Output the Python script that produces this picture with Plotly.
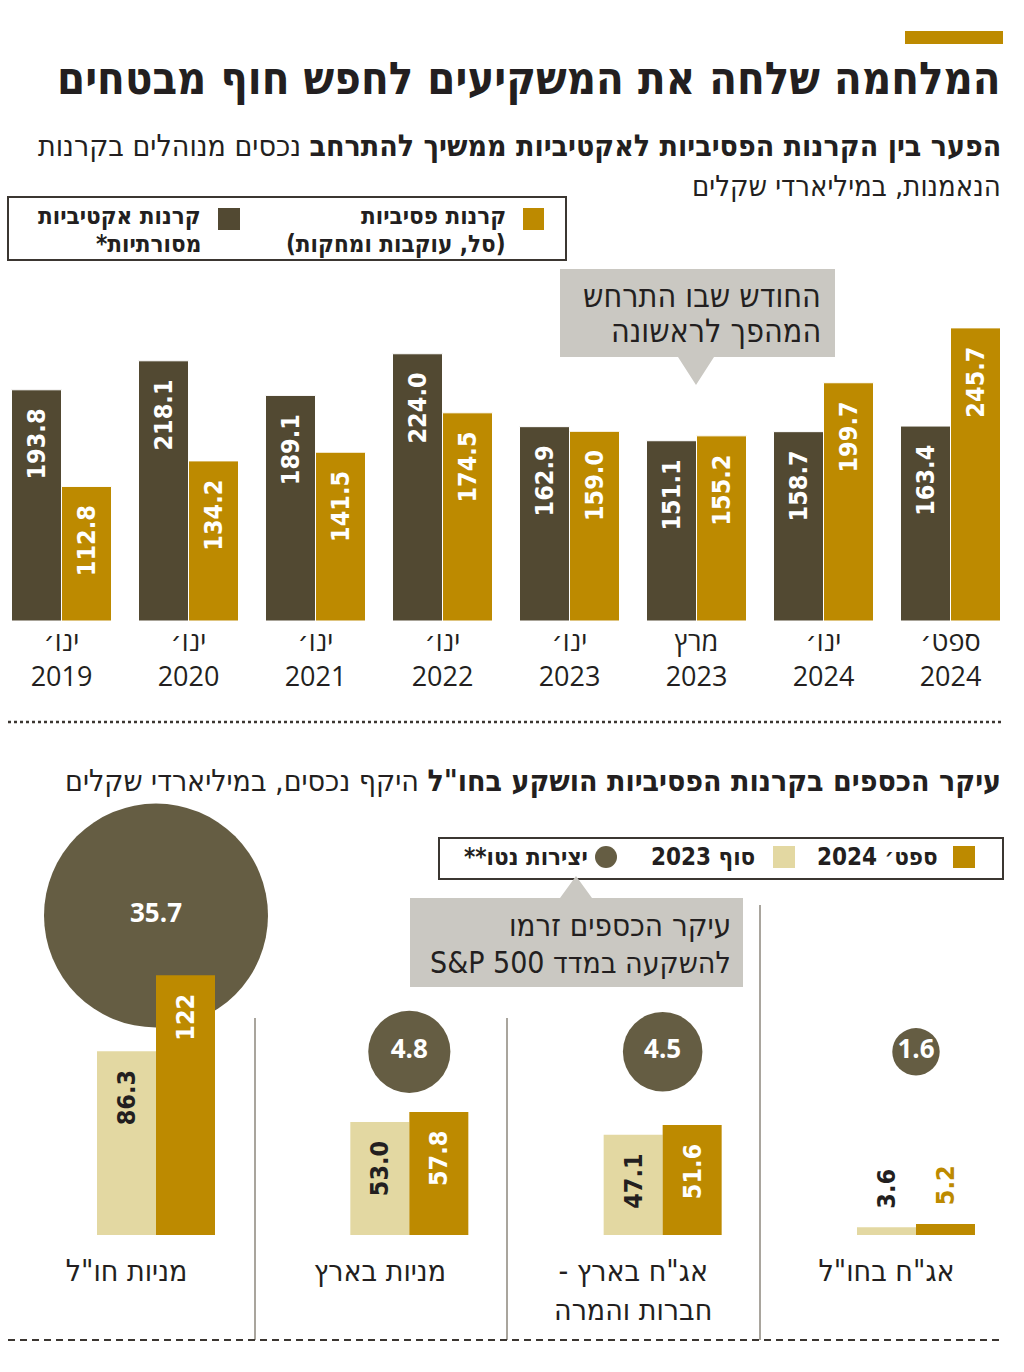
import math
import plotly.graph_objects as go

W, H = 1024, 1372


def X(p):
    return p / W


def Y(p):
    return 1 - p / H


RLE, PDF = "\u202b", "\u202c"


def rtl(s):
    return "<br>".join(RLE + part + PDF for part in s.split("<br>"))


# ---------------- data ----------------
top_labels = ["ינו׳<br>2019", "ינו׳<br>2020", "ינו׳<br>2021", "ינו׳<br>2022",
              "ינו׳<br>2023", "מרץ<br>2023", "ינו׳<br>2024", "ספט׳<br>2024"]
active_funds = [193.8, 218.1, 189.1, 224.0, 162.9, 151.1, 158.7, 163.4]
passive_funds = [112.8, 134.2, 141.5, 174.5, 159.0, 155.2, 199.7, 245.7]

bottom_labels = ['מניות חו"ל', "מניות בארץ", 'אג"ח בארץ -<br>חברות והמרה', 'אג"ח בחו"ל']
end_2023 = [86.3, 53.0, 47.1, 3.6]
sep_2024 = [122, 57.8, 51.6, 5.2]
net_flows = [35.7, 4.8, 4.5, 1.6]

# ---------------- style ----------------
DARK = "#524932"
GOLD = "#bd8a00"
LIGHT = "#e3d8a2"
BUBBLE = "#655d43"
GRAY = "#cac8c2"
INK = "#231f20"
HEB = "DejaVu Sans Condensed, DejaVu Sans, sans-serif"
NUM = "DejaVu Sans Condensed, DejaVu Sans, sans-serif"
LAT = "Open Sans, DejaVu Sans, sans-serif"
PAD = "\u00a0" * 2

# top chart geometry (px)
T_PITCH, T_C0, T_BASE, T_TOP, T_SCALE = 127.0, 61.5, 621, 280, 1.193
T_BW = 50 / T_PITCH
# bottom chart geometry (px)
B_PITCH, B_C0, B_BASE, B_TOP, B_SCALE = 253.33, 156.0, 1235, 780, 2.13
B_BW = 59 / B_PITCH
BUBBLE_FLOOR, BUBBLE_LIFT, BUBBLE_MAXD = 58, 28, 224


def fmt(v):
    return str(v) if isinstance(v, int) else f"{v:.1f}"


fig = go.Figure()

tx = list(range(len(top_labels)))
for vals, col, off in ((active_funds, DARK, -T_BW), (passive_funds, GOLD, 0)):
    fig.add_trace(go.Bar(
        x=tx, y=vals, width=T_BW, offset=off, xaxis="x", yaxis="y",
        marker=dict(color=col, line=dict(color="white", width=1)),
        text=[fmt(v) + PAD for v in vals], textposition="inside",
        insidetextanchor="end", textangle=-90,
        textfont=dict(family=NUM, size=25, color="white", weight="bold"),
        hoverinfo="skip"))

bx = list(range(len(bottom_labels)))
# bubbles (base layer, below the bars)
bub_y = [max(max(a, b), BUBBLE_FLOOR) + BUBBLE_LIFT for a, b in zip(end_2023, sep_2024)]
bub_d = [BUBBLE_MAXD * math.sqrt(v / max(net_flows)) for v in net_flows]
fig.add_trace(go.Scatter(
    x=bx, y=bub_y, xaxis="x2", yaxis="y2", mode="markers+text",
    marker=dict(size=bub_d, color=BUBBLE, opacity=1, line=dict(width=0)),
    text=[fmt(v) for v in net_flows], textposition="middle center",
    textfont=dict(family=LAT, size=26, color="white", weight="bold"),
    cliponaxis=False, hoverinfo="skip"))


def inside(v):
    return v > 20


fig.add_trace(go.Bar(
    x=bx, y=end_2023, width=B_BW, offset=-B_BW, xaxis="x2", yaxis="y3",
    marker=dict(color=LIGHT, line=dict(width=0)),
    text=[(fmt(v) + PAD) if inside(v) else (PAD + fmt(v)) for v in end_2023],
    textposition=["inside" if inside(v) else "outside" for v in end_2023],
    insidetextanchor="end", textangle=-90,
    textfont=dict(family=NUM, size=25, color=INK, weight="bold"),
    cliponaxis=False, hoverinfo="skip"))
fig.add_trace(go.Bar(
    x=bx, y=sep_2024, width=B_BW, offset=0, xaxis="x2", yaxis="y3",
    marker=dict(color=GOLD, line=dict(width=0)),
    text=[(fmt(v) + PAD) if inside(v) else (PAD + fmt(v)) for v in sep_2024],
    textposition=["inside" if inside(v) else "outside" for v in sep_2024],
    insidetextanchor="end", textangle=-90,
    textfont=dict(family=NUM, size=25, weight="bold",
                  color=["white" if inside(v) else GOLD for v in sep_2024]),
    cliponaxis=False, hoverinfo="skip"))

# ---------------- shapes ----------------
shapes = []


def rect(x0, y0, x1, y1, fill=None, line=None, lw=0):
    shapes.append(dict(type="rect", xref="paper", yref="paper",
                       x0=X(x0), x1=X(x1), y0=Y(y1), y1=Y(y0),
                       fillcolor=fill if fill else "rgba(0,0,0,0)",
                       line=dict(color=line if line else "rgba(0,0,0,0)", width=lw)))


def hline(x0, x1, y, color, width, dash):
    shapes.append(dict(type="line", xref="paper", yref="paper",
                       x0=X(x0), x1=X(x1), y0=Y(y), y1=Y(y),
                       line=dict(color=color, width=width, dash=dash)))


def vline(x, y0, y1):
    shapes.append(dict(type="line", xref="paper", yref="paper",
                       x0=X(x), x1=X(x), y0=Y(y0), y1=Y(y1),
                       line=dict(color="#8c877d", width=1.5)))


def path(points):
    d = "M " + " L ".join(f"{X(a):.5f},{Y(b):.5f}" for a, b in points) + " Z"
    shapes.append(dict(type="path", xref="paper", yref="paper", path=d,
                       fillcolor=GRAY, line=dict(width=0)))


rect(905, 31, 1003, 44, fill=GOLD)
rect(8, 197, 566, 260, line="#3b3631", lw=2)
rect(523, 208, 544, 230, fill=GOLD)
rect(218, 208, 240, 230, fill=DARK)
path([(560, 269), (835, 269), (835, 357), (714, 357), (696, 385), (678, 357), (560, 357)])
hline(8, 1003, 722, "#3b3631", 2.5, "dot")
rect(439, 838, 1003, 879, line="#3b3631", lw=2)
rect(953, 846, 975, 868, fill=GOLD)
rect(773, 846, 795, 868, fill=LIGHT)
shapes.append(dict(type="circle", xref="paper", yref="paper",
                   x0=X(595), x1=X(617), y0=Y(868), y1=Y(846),
                   fillcolor=BUBBLE, line=dict(width=0)))
path([(410, 898), (560, 898), (576, 876), (592, 898), (743, 898), (743, 987), (410, 987)])
vline(255, 1018, 1340)
vline(507, 1018, 1340)
vline(760, 905, 1340)
hline(8, 1003, 1340, "#3b3631", 2, "7px,5px")

# ---------------- annotations ----------------
ann = []


def text(x, y, s, size, bold=False, raw=False):
    ann.append(dict(xref="paper", yref="paper", x=X(x), y=Y(y),
                    text=s if raw else rtl(s),
                    showarrow=False, xanchor="right", yanchor="middle", align="right",
                    font=dict(family=HEB, size=size, color=INK,
                              weight="bold" if bold else "normal")))


text(1003, 78, "המלחמה שלחה את המשקיעים לחפש חוף מבטחים", 45, bold=True)
text(1003, 145, RLE + "<b>הפער בין הקרנות הפסיביות לאקטיביות ממשיך להתרחב</b> נכסים מנוהלים בקרנות" + PDF, 30, raw=True)
text(1003, 186, "הנאמנות, במיליארדי שקלים", 29)
text(508, 216, "קרנות פסיביות", 24, bold=True)
text(508, 244, "(סל, עוקבות ומחקות)", 24, bold=True)
text(203, 216, "קרנות אקטיביות", 24, bold=True)
text(203, 244, "מסורתיות*", 24, bold=True)
text(823, 296, "החודש שבו התרחש", 32)
text(823, 331, "המהפך לראשונה", 32)
text(1003, 780, RLE + '<b>עיקר הכספים בקרנות הפסיביות הושקע בחו"ל</b> היקף נכסים, במיליארדי שקלים' + PDF, 30, raw=True)
text(940, 857, "ספט׳ 2024", 24, bold=True)
text(757, 857, "סוף 2023", 24, bold=True)
text(590, 857, "יצירות נטו**", 24, bold=True)
text(733, 925, "עיקר הכספים זרמו", 31)
text(733, 962, "S&P 500 להשקעה במדד", 30, raw=True)

fig.update_layout(
    width=W, height=H, margin=dict(l=0, r=0, t=0, b=0),
    paper_bgcolor="white", plot_bgcolor="rgba(0,0,0,0)",
    showlegend=False, barmode="overlay",
    shapes=shapes, annotations=ann,
    xaxis=dict(domain=[0, 1], anchor="y",
               range=[(0 - T_C0) / T_PITCH, (W - T_C0) / T_PITCH],
               tickmode="array", tickvals=tx, ticktext=top_labels,
               ticks="", ticklabelstandoff=2, showgrid=False, zeroline=False, showline=False,
               tickfont=dict(family=LAT, size=27, color=INK), fixedrange=True),
    yaxis=dict(domain=[Y(T_BASE), Y(T_TOP)], anchor="x",
               range=[0, (T_BASE - T_TOP) / T_SCALE], visible=False, fixedrange=True),
    xaxis2=dict(domain=[0, 1], anchor="y2",
                range=[(0 - B_C0) / B_PITCH, (W - B_C0) / B_PITCH],
                tickmode="array", tickvals=[i - B_BW / 2 for i in bx],
                ticktext=[rtl(s) for s in bottom_labels],
                ticks="", ticklabelstandoff=15, showgrid=False, zeroline=False, showline=False,
                tickfont=dict(family=HEB, size=30, color=INK), fixedrange=True),
    yaxis2=dict(domain=[Y(B_BASE), Y(B_TOP)], anchor="x2",
                range=[0, (B_BASE - B_TOP) / B_SCALE], visible=False, fixedrange=True),
    yaxis3=dict(domain=[Y(B_BASE), Y(B_TOP)], anchor="x2", overlaying="y2",
                range=[0, (B_BASE - B_TOP) / B_SCALE], visible=False, fixedrange=True),
)

fig.write_html("out.html", config={"displayModeBar": False},
               post_script="document.body.style.margin='0px';")
